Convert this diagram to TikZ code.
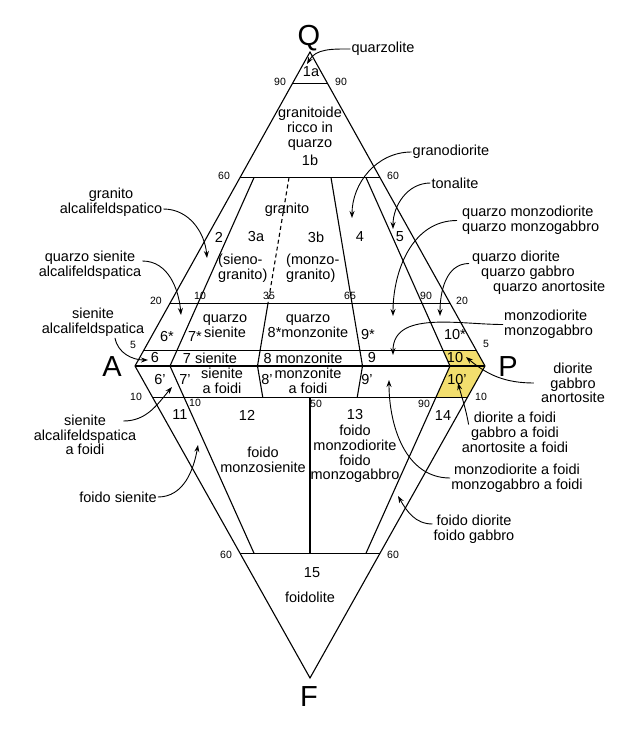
\documentclass[tikz,border=0pt]{standalone}
\usepackage{fontspec}
\setmainfont{Liberation Sans}
\usetikzlibrary{calc,arrows.meta}
\definecolor{fieldyellow}{RGB}{242,222,110}

\begin{document}
\begin{tikzpicture}[x=1pt,y=-1pt,
  txt/.style={font=\fontsize{14.5}{14.8}\selectfont, align=center, inner sep=1pt},
  tick/.style={font=\fontsize{10.5}{12}\selectfont, inner sep=0pt},
  corner/.style={font=\fontsize{29}{30}\selectfont, inner sep=0pt},
  edge/.style={line width=1.1pt},
  pointer/.style={line width=0.9pt, -{Stealth[length=7pt,width=5pt]}}]
\useasboundingbox (0,0) rectangle (640,731);
%% corners of the double triangle
\coordinate (Q) at (310,52);
\coordinate (A) at (135,366);
\coordinate (P) at (485,366);
\coordinate (F) at (310,678);
\foreach \r in {10,35,50,65,90} {
  \coordinate (a\r) at ($(A)!\r/100!(P)$);
}
%% field 10 / 10'
\fill[fieldyellow] ($(Q)!0.95!(a90)$) -- ($(Q)!0.95!(P)$) -- (P)
  -- ($(F)!0.9!(P)$) -- ($(F)!0.9!(a90)$) -- (a90) -- cycle;
%% outline and horizontal cuts
\draw[edge] (Q) -- (A) -- (F) -- (P) -- cycle;
\draw[edge] (A) -- (P);
\foreach \t in {0.1,0.4,0.8,0.95}
  \draw[edge] ($(Q)!\t!(A)$) -- ($(Q)!\t!(P)$);
\foreach \t in {0.9,0.4}
  \draw[edge] ($(F)!\t!(A)$) -- ($(F)!\t!(P)$);
%% ratio lines, upper half
\foreach \r in {10,65,90}
  \draw[edge] ($(Q)!0.4!(a\r)$) -- (a\r);
\draw[edge,dash pattern=on 4pt off 3pt] ($(Q)!0.4!(a35)$) -- ($(Q)!0.8!(a35)$);
\draw[edge] ($(Q)!0.8!(a35)$) -- (a35);
%% ratio lines, lower half
\foreach \r in {10,35,65,90}
  \draw[edge] (a\r) -- ($(F)!0.9!(a\r)$);
\foreach \r in {10,50,90}
  \draw[edge] ($(F)!0.9!(a\r)$) -- ($(F)!0.4!(a\r)$);
%% corner letters
\node[corner] (labQ) at (309,38) {Q};
\node[corner] (labA) at (112,367) {A};
\node[corner] (labP) at (508,367) {P};
\node[corner] (labF) at (309,697) {F};
%% percentages
\node[tick] (t90l) at (280,82) {90};
\node[tick] (t90r) at (341,82) {90};
\node[tick] (t60l) at (224,176) {60};
\node[tick] (t60r) at (393,176) {60};
\node[tick] (t20l) at (156,301) {20};
\node[tick] (t20r) at (462,301) {20};
\node[tick] (t10u) at (200,296) {10};
\node[tick] (t35u) at (269,296) {35};
\node[tick] (t65u) at (350,296) {65};
\node[tick] (t90u) at (426,296) {90};
\node[tick] (t5l) at (133,345) {5};
\node[tick] (t5r) at (486,344) {5};
\node[tick] (t10l) at (136,397) {10};
\node[tick] (t10r) at (481,397) {10};
\node[tick] (t10d) at (195,403) {10};
\node[tick] (t50d) at (316,404) {50};
\node[tick] (t90d) at (424,404) {90};
\node[tick] (t60dl) at (226,555) {60};
\node[tick] (t60dr) at (393,555) {60};
%% fields
\node[txt] (n1a) at (311,72) {1a};
\node[txt] (n1b) at (310,128.5) {granitoide\\ricco in\\quarzo};
\node[txt] (n1bnum) at (310,160) {1b};
\node[txt] (ngr) at (287,210) {granito};
\node[txt] (n2) at (219,237) {2};
\node[txt] (n3a) at (256,237) {3a};
\node[txt] (n3b) at (316,237) {3b};
\node[txt] (n4) at (360,237) {4};
\node[txt] (n5) at (400,237) {5};
\node[txt,align=left,anchor=west] (nsg) at (217,268) {(sieno-\\granito)};
\node[txt,align=left,anchor=west] (nmg) at (285,268) {(monzo-\\granito)};
\node[txt] (n6s) at (167,337) {6*};
\node[txt] (n7s) at (195,337) {7*};
\node[txt] (nqs) at (225,326.5) {quarzo\\sienite};
\node[txt] (nqm) at (308,326.5) {quarzo\\8*monzonite};
\node[txt] (n9s) at (368,335) {9*};
\node[txt] (n10s) at (455,335) {10*};
\node[txt] (n6) at (155,358) {6};
\node[txt] (n7) at (210,358) {7 sienite};
\node[txt] (n8) at (303,358) {8 monzonite};
\node[txt] (n9) at (372,358) {9};
\node[txt] (n10) at (455,358) {10};
\node[txt] (n6p) at (160,380) {6'};
\node[txt] (n7p) at (185,380) {7'};
\node[txt] (nsf) at (222,380.5) {sienite\\a foidi};
\node[txt] (n8p) at (267,380) {8'};
\node[txt] (nmf) at (308,380.5) {monzonite\\a foidi};
\node[txt] (n9p) at (367,380) {9'};
\node[txt] (n10p) at (457,380) {10'};
\node[txt] (n11) at (180,415) {11};
\node[txt] (n12) at (247,415) {12};
\node[txt] (n13) at (355,415) {13};
\node[txt] (n14) at (443,416) {14};
\node[txt] (nfm) at (263,459.5) {foido\\monzosienite};
\node[txt] (nfd) at (355,454) {foido\\monzodiorite\\foido\\monzogabbro};
\node[txt] (n15) at (312,573) {15};
\node[txt] (nfl) at (310,597) {foidolite};
%% rock names outside, with pointers
\node[txt] (nQzl) at (383,49) {quarzolite};
\node[txt] (nGrd) at (451,152) {granodiorite};
\node[txt] (nTon) at (455,183) {tonalite};
\node[txt,anchor=west,align=left] (nQmz) at (461,220.5) {quarzo monzodiorite\\quarzo monzogabbro};
\node[txt,anchor=west,align=left] (nQdi) at (471,272.5) {quarzo diorite\\\hspace{9pt}quarzo gabbro\\\hspace{21pt}quarzo anortosite};
\node[txt,anchor=west,align=left] (nMzd) at (503,324.5) {monzodiorite\\monzogabbro};
\node[txt] (nDio) at (573,383) {diorite\\gabbro\\anortosite};
\node[txt] (nDfo) at (515,432.5) {diorite a foidi\\gabbro a foidi\\anortosite a foidi};
\node[txt] (nMfo) at (517,478) {monzodiorite a foidi\\monzogabbro a foidi};
\node[txt] (nFdg) at (474,529) {foido diorite\\foido gabbro};
\node[txt] (nFsi) at (118,497) {foido sienite};
\node[txt] (nSaf) at (85,435) {sienite\\alcalifeldspatica\\a foidi};
\node[txt] (nSal) at (93,322.5) {sienite\\alcalifeldspatica};
\node[txt] (nQsa) at (90,265) {quarzo sienite\\alcalifeldspatica};
\node[txt] (nGal) at (111,202) {granito\\alcalifeldspatico};
\coordinate (tQzl) at (307,64);
\coordinate (tGrd) at (352,218);
\coordinate (tTon) at (393,229);
\coordinate (tQmz) at (393,316);
\coordinate (tQdi) at (440,316);
\coordinate (tMzd) at (393,355);
\coordinate (tDio) at (466,357);
\coordinate (tDfo) at (458,383);
\coordinate (tMfo) at (389,380);
\coordinate (tFdg) at (398,496);
\coordinate (tFsi) at (198,445);
\coordinate (tSaf) at (172,387);
\coordinate (tSal) at (148,360);
\coordinate (tQsa) at (181,315);
\coordinate (tGal) at (207,258);
\draw[pointer] (nQzl.west) to[out=180,in=60] (tQzl);
\draw[pointer] (nGrd.west) to[out=180,in=90] (tGrd);
\draw[pointer] (nTon.west) to[out=180,in=90] (tTon);
\draw[pointer] ([xshift=-4pt]nQmz.west) to[out=180,in=90] (tQmz);
\draw[pointer] ([xshift=-2pt,yshift=9pt]nQdi.west) to[out=180,in=90] (tQdi);
\draw[pointer] (nMzd.west) to[out=180,in=90] (tMzd);
\draw[pointer] ([xshift=-6pt]nDio.west) to[out=180,in=-40] (tDio);
\draw[pointer] ([xshift=8pt,yshift=8pt]nDfo.west) to[out=100,in=-75] (tDfo);
\draw[pointer] (nMfo.west) to[out=180,in=-90] (tMfo);
\draw[pointer] ([yshift=5pt]nFdg.west) to[out=180,in=-60] (tFdg);
\draw[pointer] (nFsi.east) to[out=0,in=-100] (tFsi);
\draw[pointer] ([xshift=-14pt,yshift=14pt]nSaf.east) to[out=0,in=-130] (tSaf);
\draw[pointer] ([xshift=22pt]nSal.south) to[out=-80,in=180] (tSal);
\draw[pointer] ([yshift=4pt]nQsa.east) to[out=0,in=95] (tQsa);
\draw[pointer] ([yshift=-7pt]nGal.east) to[out=0,in=95] (tGal);
\end{tikzpicture}
\end{document}
